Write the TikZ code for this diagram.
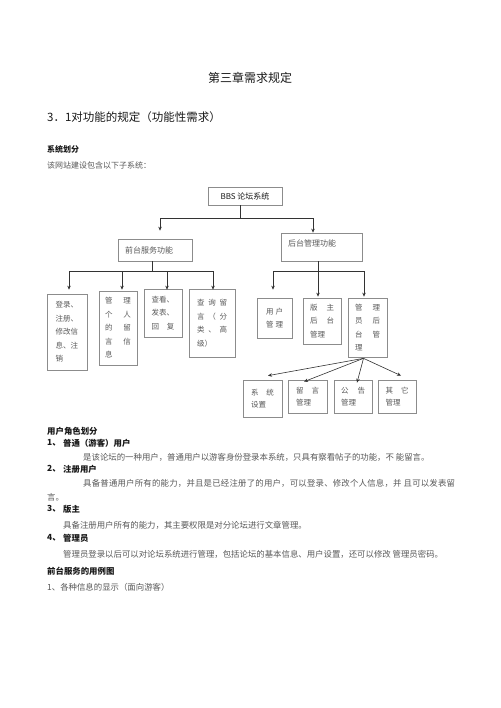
\documentclass[tikz,border=0pt]{standalone}
\usepackage{fontspec}
\setmainfont{Noto Sans CJK SC}
\usetikzlibrary{arrows.meta}
\definecolor{boxc}{gray}{0.55}
\definecolor{linec}{gray}{0.2}
\definecolor{bodyc}{gray}{0.35}
\definecolor{headc}{gray}{0.1}
\begin{document}
\begin{tikzpicture}[x=1pt,y=-1pt,
  bx/.style={draw=boxc, line width=0.7pt, inner sep=0pt, text=bodyc, font=\fontsize{7.5}{13.5}\selectfont, align=left},
  bxs/.style={bx, font=\fontsize{7.5}{12}\selectfont},
  conn/.style={draw=linec, line width=0.6pt},
  arr/.style={conn, -{Stealth[length=4pt,width=3.5pt]}},
  body/.style={anchor=west, inner sep=0pt, text=bodyc, font=\fontsize{8.4}{10}\selectfont},
  head/.style={anchor=west, inner sep=0pt, text=headc, font=\fontsize{8.4}{10}\selectfont\bfseries},
]
\useasboundingbox[fill=white] (0,0) rectangle (500,708);

% headings
\node[inner sep=0pt, text=headc, font=\fontsize{12}{14}\selectfont] (title) at (250,78) {第三章需求规定};
\node[anchor=west, inner sep=0pt, text=headc, font=\fontsize{11.5}{14}\selectfont] (sec) at (47,117) {3．1对功能的规定（功能性需求）};
\node[head, font=\fontsize{8}{10}\selectfont\bfseries] (h0) at (47,149) {系统划分};
\node[body, font=\fontsize{8}{10}\selectfont] (p0) at (47,165) {该网站建设包含以下子系统：};

% top boxes
\node[bx, minimum width=74pt, minimum height=18pt, text=headc, font=\fontsize{8}{10}\selectfont] (sys) at (245,196) {BBS 论坛系统};
\node[bx, minimum width=74pt, minimum height=22pt, text width=60pt, font=\fontsize{8}{10}\selectfont] (front) at (155,250) {前台服务功能};
\node[bx, minimum width=81pt, minimum height=28pt] (back) at (321.5,247) {};
\node[anchor=west, inner sep=0pt, text=bodyc, font=\fontsize{8}{10}\selectfont] (backt) at (288,243) {后台管理功能};

% front leaves
\node[bx, minimum width=40pt, minimum height=76pt, text width=23pt] (f1) at (67,332) {登录、\\注册、\\修改信\\息、注\\销};
\node[bx, minimum width=38pt, minimum height=74pt, text width=26pt] (f2) at (118,328) {管\hfill 理\\个\hfill 人\\的\hfill 留\\言\hfill 信\\息};
\node[bx, minimum width=38pt, minimum height=48pt, text width=23pt] (f3) at (163,313) {查看、\\发表、\\回\hfill 复};
\node[bx, minimum width=46pt, minimum height=68pt, text width=30pt] (f4) at (212,323) {查\hfill 询\hfill 留\\言\hfill （\hfill 分\\类\hfill 、\hfill 高\\级）};

% back leaves
\node[bx, minimum width=35pt, minimum height=40pt, text width=17pt] (b1) at (274.5,318) {用\hfill 户\\管\hfill 理};
\node[bx, minimum width=38pt, minimum height=46pt, text width=24pt] (b2) at (322,321) {版\hfill 主\\后\hfill 台\\管理};
\node[bx, minimum width=39pt, minimum height=59pt, text width=25pt] (b3) at (367.5,327.5) {管\hfill 理\\员\hfill 后\\台\hfill 管\\理};

% admin leaves
\node[bxs, minimum width=39pt, minimum height=37pt, text width=23pt] (c1) at (262.5,398.5) {系\hfill 统\\设置};
\node[bxs, minimum width=39pt, minimum height=33pt, text width=23pt] (c2) at (307.5,396.5) {留\hfill 言\\管理};
\node[bxs, minimum width=38pt, minimum height=33pt, text width=24pt] (c3) at (353,396.5) {公\hfill 告\\管理};
\node[bxs, minimum width=38pt, minimum height=33pt, text width=23pt] (c4) at (397,396.5) {其\hfill 它\\管理};

% connectors top
\coordinate (j1) at (240,218);
\draw[conn] (sys.south -| j1) -- (j1);
\draw[arr] (j1) -| ([shift={(5,-8)}]front.north);
\draw[arr] (j1) -| ([shift={(-8.5,0)}]back.north);

% front branch
\coordinate (j2) at (152,271);
\draw[conn] (front.south -| j2) -- (j2);
\draw[arr] (j2) -| ([shift={(2,-4)}]f1.north);
\draw[arr] (j2) -| ([shift={(4,-1)}]f2.north);
\draw[arr] (j2) -| ([shift={(4,1)}]f3.north);
\draw[arr] (j2) -| ([shift={(1,1)}]f4.north);

% back branch
\coordinate (j3) at (318,271);
\draw[conn] (back.south -| j3) -- (j3);
\draw[arr] (j3) -| ([shift={(-1.5,-8)}]b1.north);
\draw[arr] (j3) -- ([shift={(-4,-1)}]b2.north);
\draw[arr] (j3) -| ([shift={(-3.5,-1)}]b3.north);

% admin branch
\coordinate (j4) at ([shift={(-4,1)}]b3.south);
\draw[arr] (j4) -- ([shift={(5.5,-4)}]c1.north);
\draw[arr] (j4) -- ([shift={(-3.5,2)}]c2.north);
\draw[arr] (j4) -- ([shift={(4,3)}]c3.north);
\draw[arr] (j4) -- ([shift={(4,-4)}]c4.north);

% body text
\node[head] (h1) at (47,431) {用户角色划分};
\node[head] (n1) at (47,443) {1、};
\node[head] (t1) at (63,443) {普通（游客）用户};
\node[body] (l1) at (83,457) {是该论坛的一种用户，普通用户以游客身份登录本系统，只具有察看帖子的功能，不 能留言。};
\node[head] (n2) at (47,469) {2、};
\node[head] (t2) at (63,469) {注册用户};
\node[body, font=\fontsize{8.4}{10}\selectfont\addfontfeature{LetterSpace=2.5}] (l2) at (83,483) {具备普通用户所有的能力，并且是已经注册了的用户，可以登录、修改个人信息，并 且可以发表留};
\node[body] (l3) at (47,497) {言。};
\node[head] (n3) at (47,509) {3、};
\node[head] (t3) at (63,509) {版主};
\node[body] (l4) at (63,525) {具备注册用户所有的能力，其主要权限是对分论坛进行文章管理。};
\node[head] (n4) at (47,538) {4、};
\node[head] (t4) at (63,538) {管理员};
\node[body] (l5) at (63,554) {管理员登录以后可以对论坛系统进行管理，包括论坛的基本信息、用户设置，还可以修改 管理员密码。};
\node[head] (h2) at (47,571) {前台服务的用例图};
\node[body] (l6) at (47,587) {1、各种信息的显示（面向游客）};
\end{tikzpicture}
\end{document}
